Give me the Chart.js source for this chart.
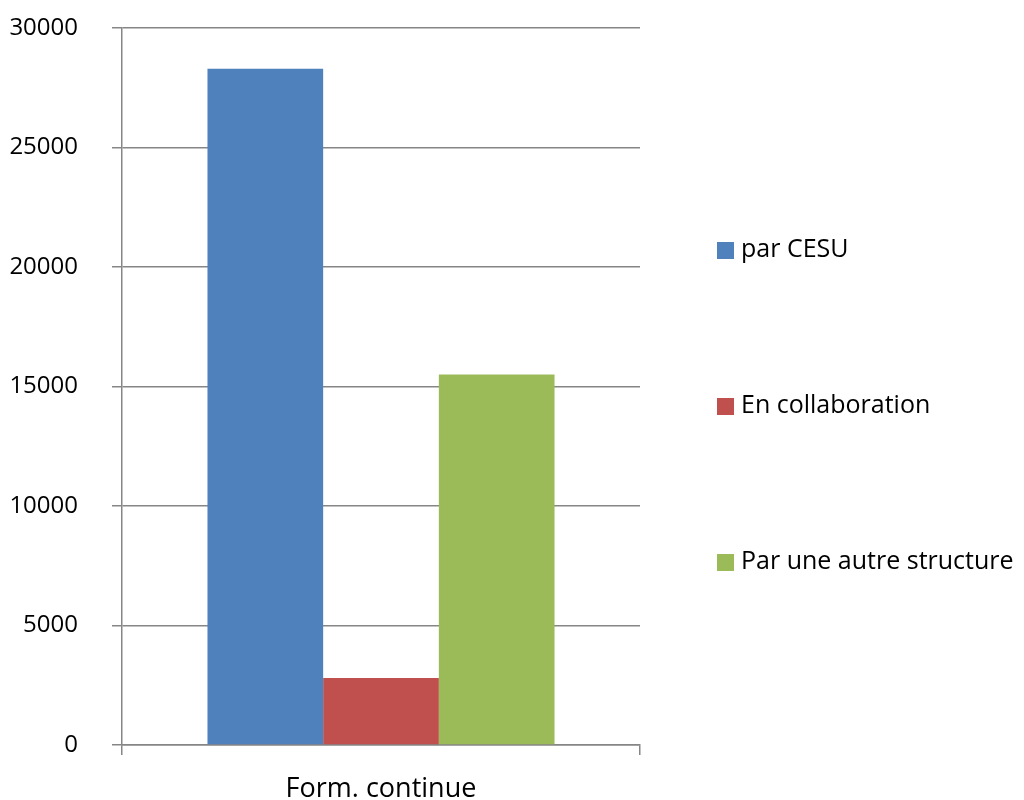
<!DOCTYPE html>
<html>
<head>
<meta charset="utf-8">
<script src="https://cdn.jsdelivr.net/npm/chart.js@4/dist/chart.umd.min.js"></script>
<style>
html,body{margin:0;padding:0;background:#fff;}
#wrap{width:1024px;height:800px;}
</style>
</head>
<body>
<div id="wrap"><canvas id="c" width="1024" height="800"></canvas></div>
<script>
const categories = ["Form. continue"];
const seriesNames = ["par CESU", "En collaboration", "Par une autre structure"];
const parCESU = [28300];
const enCollaboration = [2800];
const parAutreStructure = [15500];
const seriesColors = ["#4F81BD", "#C0504D", "#9BBB59"];
const yTicks = [0, 5000, 10000, 15000, 20000, 25000, 30000];

const FONT = "'Open Sans', sans-serif";

const sideLegend = {
  id: 'sideLegend',
  afterDraw(chart) {
    const ctx = chart.ctx;
    const ys = [250, 406, 562];
    ctx.save();
    ctx.font = "25px " + FONT;
    ctx.textBaseline = 'middle';
    ctx.textAlign = 'left';
    chart.data.datasets.forEach((ds, i) => {
      const y = ys[i];
      ctx.fillStyle = ds.backgroundColor;
      ctx.fillRect(717, y - 8, 17, 17);
      ctx.fillStyle = '#000';
      ctx.fillText(ds.label, 741, y);
    });
    ctx.restore();
  }
};

const values = [parCESU, enCollaboration, parAutreStructure];

new Chart(document.getElementById('c'), {
  type: 'bar',
  data: {
    labels: categories,
    datasets: seriesNames.map((n, i) => ({
      label: n,
      data: values[i],
      backgroundColor: seriesColors[i],
      borderWidth: 0,
      categoryPercentage: 0.67,
      barPercentage: 1.0
    }))
  },
  options: {
    responsive: false,
    animation: false,
    layout: { padding: { left: 0, right: 384, top: 28, bottom: 0 } },
    plugins: {
      legend: { display: false },
      tooltip: { enabled: false }
    },
    scales: {
      x: {
        afterFit(scale) { scale.height = 55; },
        grid: { display: true, drawOnChartArea: false, drawTicks: true, tickLength: 10, color: '#868686', lineWidth: 1.5, offset: true },
        border: { display: true, color: '#868686', width: 1.5 },
        ticks: { color: '#000', font: { family: FONT, size: 27 }, padding: 18 }
      },
      y: {
        min: 0,
        max: 30000,
        afterFit(scale) { scale.width = 122; scale.paddingTop = 0; scale.paddingBottom = 0; },
        afterBuildTicks(scale) { scale.ticks = yTicks.map(v => ({ value: v })); },
        grid: { color: '#868686', lineWidth: 1.5, tickLength: 10, drawTicks: true },
        border: { display: true, color: '#868686', width: 1.5 },
        ticks: {
          color: '#000',
          font: { family: FONT, size: 24 },
          padding: 34,
          callback: v => String(v)
        }
      }
    }
  },
  plugins: [sideLegend]
});
</script>
</body>
</html>
